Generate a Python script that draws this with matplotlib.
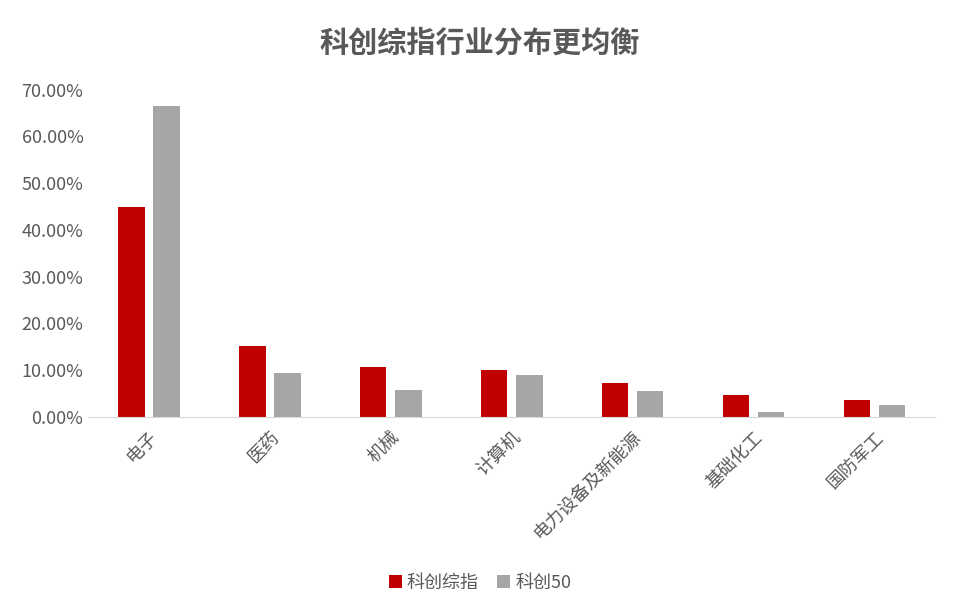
import numpy as np
import matplotlib.pyplot as plt
from matplotlib.ticker import FuncFormatter

plt.rcParams['font.family'] = ['Noto Sans CJK SC', 'DejaVu Sans']

categories = ['电子', '医药', '机械', '计算机', '电力设备及新能源', '基础化工', '国防军工']
kc_all = [44.8, 15.2, 10.7, 10.1, 7.3, 4.7, 3.6]
kc_50 = [66.4, 9.4, 5.8, 9.0, 5.6, 1.0, 2.5]

fig = plt.figure(figsize=(9.6, 6.14), dpi=100)
ax = fig.add_axes([0.092, 0.321, 0.882, 0.533])

x = np.arange(len(categories))
w = 0.22
ax.bar(x - 0.145, kc_all, w, color='#c00000', label='科创综指')
ax.bar(x + 0.145, kc_50, w, color='#a6a6a6', label='科创50')

ax.set_xlim(-0.5, len(categories) - 0.5)
ax.set_ylim(0, 70)
ax.set_yticks(np.arange(0, 71, 10))
ax.yaxis.set_major_formatter(FuncFormatter(lambda v, p: f'{v:.2f}%'))
ax.set_xticks(x)
ax.set_xticklabels(categories, rotation=45, ha='right', rotation_mode='anchor')
ax.tick_params(axis='both', length=0, labelsize=13, colors='#595959')
ax.tick_params(axis='x', pad=8)
for s in ['top', 'right', 'left']:
    ax.spines[s].set_visible(False)
ax.spines['bottom'].set_color('#d9d9d9')

fig.suptitle('科创综指行业分布更均衡', y=0.955, fontsize=21, fontweight='bold', color='#595959')
fig.legend(loc='lower center', bbox_to_anchor=(0.5, 0.01), ncol=2, frameon=False,
           fontsize=13, handlelength=0.7, handleheight=0.7, columnspacing=1.0,
           handletextpad=0.3, labelcolor='#595959')

fig.savefig('out.png', dpi=100)
